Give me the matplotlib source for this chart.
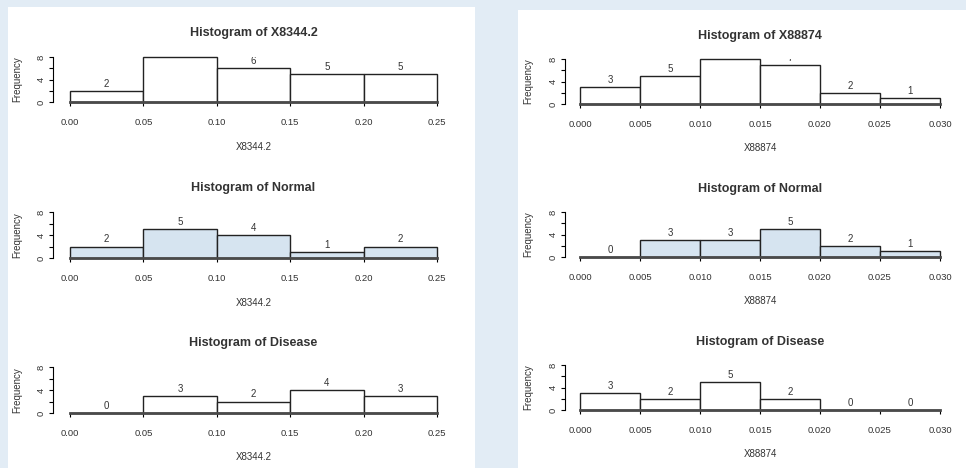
import numpy as np
import matplotlib
matplotlib.use('Agg')
import matplotlib.pyplot as plt
from matplotlib.patches import Rectangle

plt.rcParams['font.family'] = ['Liberation Sans', 'DejaVu Sans']

# data
edges_a = [0.00, 0.05, 0.10, 0.15, 0.20, 0.25]
edges_b = [0.000, 0.005, 0.010, 0.015, 0.020, 0.025, 0.030]
all_a = [2, 8, 6, 5, 5]
normal_a = [2, 5, 4, 1, 2]
disease_a = [0, 3, 2, 4, 3]
all_b = [3, 5, 8, 7, 2, 1]
normal_b = [0, 3, 3, 5, 2, 1]
disease_b = [3, 2, 5, 2, 0, 0]
xtick_a = ['0.00', '0.05', '0.10', '0.15', '0.20', '0.25']
xtick_b = ['0.000', '0.005', '0.010', '0.015', '0.020', '0.025', '0.030']
titles = ['Histogram of X8344.2', 'Histogram of Normal', 'Histogram of Disease']
titles_b = ['Histogram of X88874', 'Histogram of Normal', 'Histogram of Disease']

W, H = 966, 468
fig = plt.figure(figsize=(W / 100, H / 100), dpi=100)
fig.patch.set_facecolor('#e2ecf5')

# white panels
for x0, y0, x1 in [(8, 7, 475), (518, 10, 966)]:
    fig.add_artist(Rectangle((x0 / W, 0), (x1 - x0) / W, 1 - y0 / H,
                             transform=fig.transFigure, facecolor='white',
                             edgecolor='none', zorder=0))

txt = '#333333'
fill_blue = '#d6e4f0'


def hist_panel(xl, xr, ybase, ytop, edges, counts, ticks, fill, title, title_y,
               xlabel, xlabel_y, ylab_x, yaxis_x):
    ax = fig.add_axes([xl / W, 1 - ybase / H, (xr - xl) / W, (ybase - ytop) / H])
    ax.set_facecolor('none')
    ax.set_xlim(edges[0], edges[-1])
    ax.set_ylim(0, 8)
    widths = np.diff(edges)
    bars = ax.bar(edges[:-1], counts, width=widths, align='edge', facecolor=fill,
                  edgecolor='#222222', linewidth=1.0, zorder=2)
    for b in bars:
        b.set_clip_on(False)
    for e, w, c in zip(edges[:-1], widths, counts):
        ax.text(e + w / 2, c + 0.35, str(c), ha='center', va='bottom',
                fontsize=7, color=txt, clip_on=True)
    for s in ['top', 'right']:
        ax.spines[s].set_visible(False)
    ax.spines['bottom'].set_bounds(edges[0], edges[-1])
    ax.spines['bottom'].set_linewidth(2.0)
    ax.spines['bottom'].set_color('#4a4a4a')
    ax.spines['bottom'].set_zorder(3)
    ax.spines['left'].set_bounds(0, 8)
    ax.spines['left'].set_position(('outward', (xl - yaxis_x) * 0.72))
    ax.spines['left'].set_linewidth(0.8)
    ax.set_xticks(edges)
    ax.set_xticklabels(ticks)
    ax.set_yticks([0, 2, 4, 6, 8])
    ax.set_yticklabels(['0', '', '4', '', '8'], rotation=90, va='center')
    ax.tick_params(axis='x', length=3, width=0.8, pad=8.5, labelsize=6.8, labelcolor=txt)
    ax.tick_params(axis='y', length=3, width=0.8, pad=2, labelsize=6.8, labelcolor=txt)
    cx = (xl + xr) / 2 / W
    fig.text(cx, 1 - title_y / H, title, ha='center', va='center',
             fontsize=9, fontweight='bold', color=txt)
    fig.text(cx, 1 - xlabel_y / H, xlabel, ha='center', va='center',
             fontsize=7, color=txt)
    fig.text(ylab_x / W, 1 - (ybase + ytop) / 2 / H, 'Frequency', rotation=90,
             ha='center', va='center', fontsize=7, color=txt)
    return ax


left_rows = [(102, 57, 33, 147), (258, 212, 188, 303), (413, 367, 343, 457)]
right_rows = [(104, 59, 36, 148), (257, 212, 189, 301), (410, 365, 342, 454)]
left_data = [all_a, normal_a, disease_a]
right_data = [all_b, normal_b, disease_b]
fills = ['white', fill_blue, 'white']

for i in range(3):
    yb, yt, ty, xy = left_rows[i]
    hist_panel(70, 437, yb, yt, edges_a, left_data[i], xtick_a, fills[i],
               titles[i], ty, 'X8344.2', xy, 17, 53)
    yb, yt, ty, xy = right_rows[i]
    hist_panel(580, 940, yb, yt, edges_b, right_data[i], xtick_b, fills[i],
               titles_b[i], ty, 'X88874', xy, 528, 565)

fig.savefig('out.png', dpi=100, facecolor=fig.get_facecolor())
